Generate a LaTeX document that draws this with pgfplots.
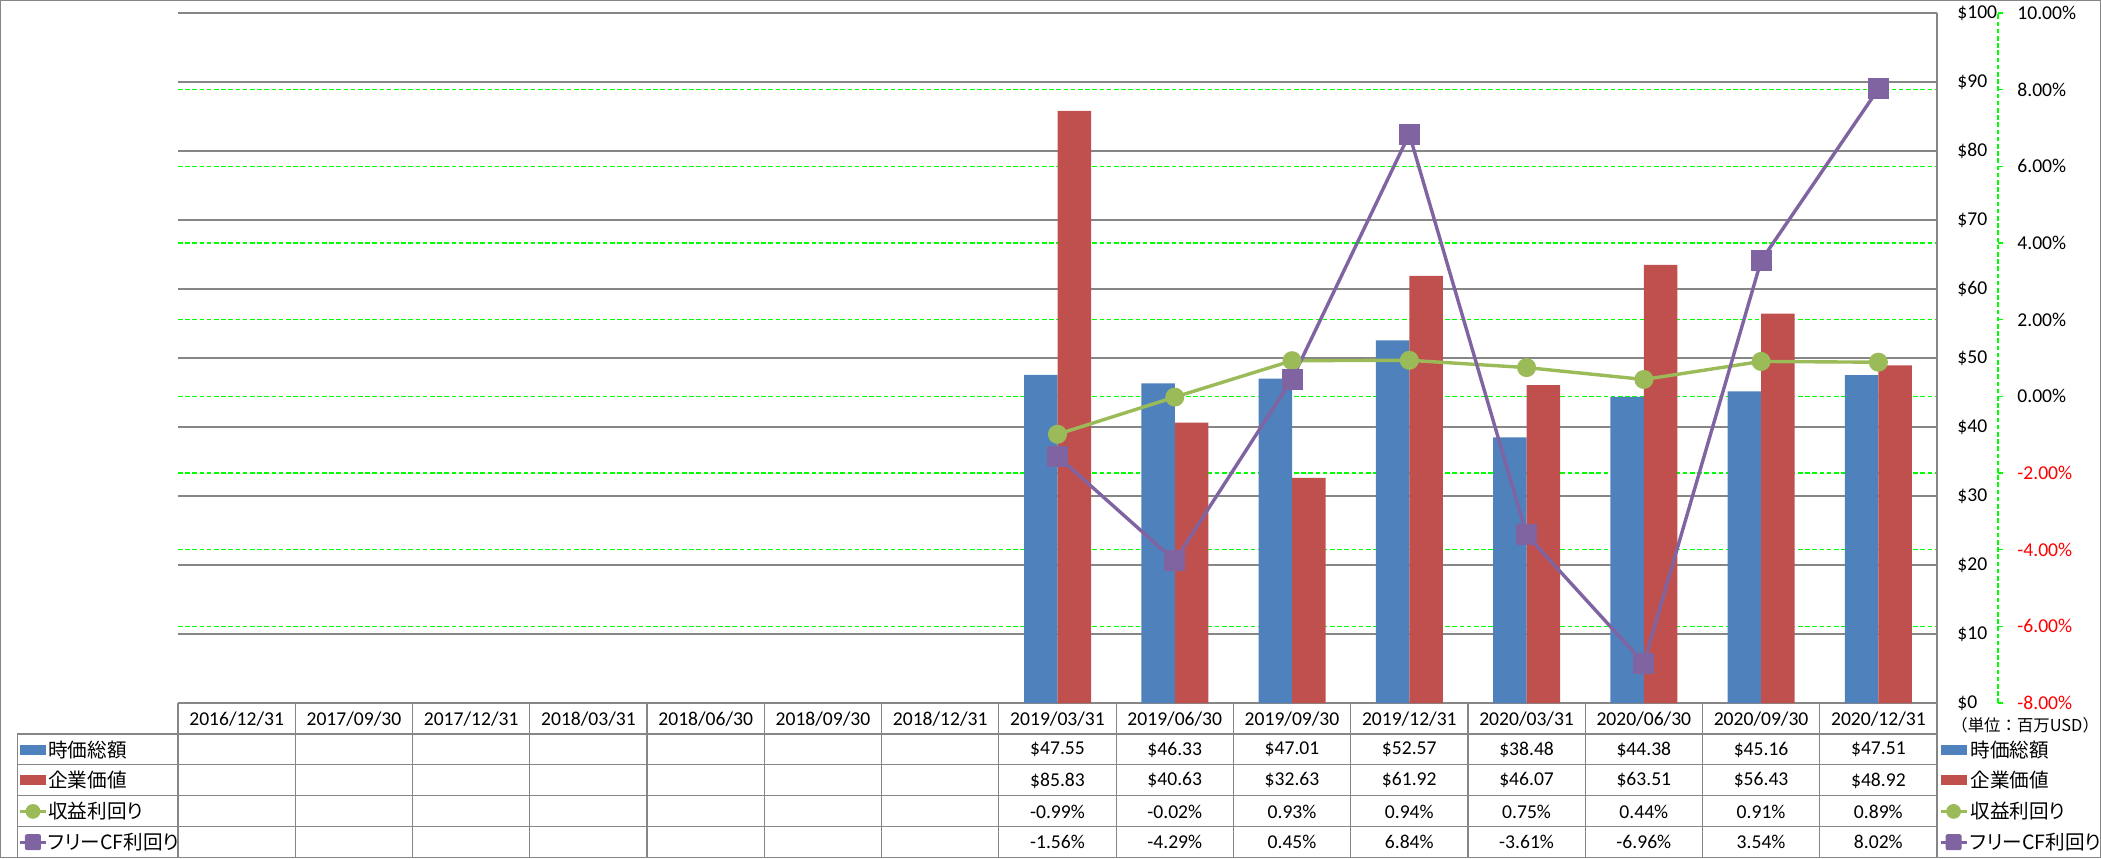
\documentclass[border=0pt]{standalone}
\usepackage{fontspec}
\setmainfont{Carlito}
\newfontfamily\jp[RawFeature=+palt]{Noto Sans CJK JP}
\newfontfamily\jpfull{Noto Sans CJK JP}
\usepackage{pgfplots}
\usepackage{pgfplotstable}
\pgfplotsset{compat=1.18}

\definecolor{mcap}{HTML}{4F81BD}
\definecolor{ev}{HTML}{C0504D}
\definecolor{ey}{HTML}{9BBB59}
\definecolor{fcf}{HTML}{8064A2}
\definecolor{gridgray}{HTML}{868686}
\definecolor{gridgreen}{HTML}{00FF00}

% idx = column of the category (0 = 2016/12/31)
\pgfplotstableread{
idx mcap ev ey fcf
7 47.55 85.83 -0.99 -1.56
8 46.33 40.63 -0.02 -4.29
9 47.01 32.63 0.93 0.45
10 52.57 61.92 0.94 6.84
11 38.48 46.07 0.75 -3.61
12 44.38 63.51 0.44 -6.96
13 45.16 56.43 0.91 3.54
14 47.51 48.92 0.89 8.02
}\data

\pgfplotsset{
  base/.style={
    width=879.5pt, height=345pt, scale only axis,
    at={(0,0)}, anchor=south west,
    xmin=-0.5, xmax=14.5, clip=false,
    axis line style={draw=none}, tick style={draw=none},
    major tick length=0pt,
  },
}

\begin{document}
\fontsize{9.8}{11.5}\selectfont
\begin{tikzpicture}[font=\fontsize{9.8}{11.5}\selectfont]
\path[use as bounding box] (-89pt,-77.5pt) rectangle (961.5pt,351.5pt);

% secondary scale: green grid and % labels
\begin{axis}[base,
  ymin=-8, ymax=10, ytick={-8,-6,...,10}, xtick=\empty,
  ymajorgrids,
  y grid style={gridgreen, line width=0.6pt, dash pattern=on 2.3pt off 1.3pt},
  yticklabel pos=right,
  yticklabel style={anchor=west, inner sep=0pt, xshift=40pt},
  yticklabel={\ifdim\tick pt<0pt\color{red}\fi\pgfmathprintnumber[fixed,fixed zerofill,precision=2,assume math mode=true]{\tick}\%},
]
\addplot[draw=none] coordinates {(0,0)};
\end{axis}

% primary scale: bars
\begin{axis}[base,
  ymin=0, ymax=100, ytick={0,10,...,100},
  ymajorgrids, y grid style={gridgray, line width=0.6pt},
  yticklabel pos=right,
  yticklabel style={anchor=west, inner sep=0pt, xshift=10pt},
  yticklabel={\$\pgfmathprintnumber[assume math mode=true]{\tick}},
  xtick={0,...,14},
  xticklabels={2016/12/31,2017/09/30,2017/12/31,2018/03/31,2018/06/30,2018/09/30,2018/12/31,2019/03/31,2019/06/30,2019/09/30,2019/12/31,2020/03/31,2020/06/30,2020/09/30,2020/12/31},
  xticklabel style={anchor=center, inner sep=0pt, yshift=-7.9pt},
  ybar=0pt, bar width=16.75pt,
]
\addplot[fill=mcap, draw=none] table[x=idx, y=mcap] {\data};
\addplot[fill=ev, draw=none] table[x=idx, y=ev] {\data};
\end{axis}

% secondary scale: yield lines
\begin{axis}[base, ymin=-8, ymax=10, hide axis]
\addplot[ey, line width=1.7pt, mark=*, mark size=3.9pt] table[x=idx, y=ey] {\data};
\addplot[fcf, line width=1.7pt, mark=square*, mark size=4.4pt,
  mark options={rounded corners=1.2pt}] table[x=idx, y=fcf] {\data};
\end{axis}

\def\cw{58.63333}
\tikzset{tbl/.style={gridgray, line width=0.6pt}}
% right value axis line, % axis line
\draw[tbl] (879.5pt,0) -- (879.5pt,345pt);
\draw[gridgreen, line width=0.6pt, dash pattern=on 2.3pt off 1.3pt] (910pt,0) -- (910pt,345pt);
\foreach \k in {0,...,9} \draw[gridgreen, line width=0.6pt] (910pt,\k*38.3333pt) -- ++(2.5pt,0);

% data table grid
\foreach \k in {0,...,15} \draw[tbl] (\k*\cw pt,0) -- (\k*\cw pt,-77.25pt);
\draw[tbl] (-80.3pt,-15.45pt) -- (-80.3pt,-77.25pt);
\foreach \y in {-15.45,-30.9,-46.35,-61.8} \draw[tbl] (-80.3pt,\y pt) -- (879.5pt,\y pt);

% data table values
\foreach \r in {0,...,7}{
  \pgfplotstablegetelem{\r}{idx}\of\data \let\ix\pgfplotsretval
  \pgfmathsetmacro{\cx}{(\ix+0.5)*\cw}
  \pgfplotstablegetelem{\r}{mcap}\of\data
  \node[inner sep=0pt] at (\cx pt,-23.3pt) {\$\pgfplotsretval};
  \pgfplotstablegetelem{\r}{ev}\of\data
  \node[inner sep=0pt] at (\cx pt,-38.7pt) {\$\pgfplotsretval};
  \pgfplotstablegetelem{\r}{ey}\of\data
  \node[inner sep=0pt] at (\cx pt,-54.2pt) {\pgfplotsretval\%};
  \pgfplotstablegetelem{\r}{fcf}\of\data
  \node[inner sep=0pt] at (\cx pt,-69.6pt) {\pgfplotsretval\%};
}

% legend keys: in the table and on the right
\foreach \x in {-79,881.3}{
  \fill[mcap] (\x pt,-25.8pt) rectangle ++(13pt,5pt);
  \fill[ev] (\x pt,-41.2pt) rectangle ++(13pt,5pt);
  \draw[ey, line width=1.7pt] (\x pt,-54.2pt) -- ++(13pt,0);
  \fill[ey] (\x pt+6.5pt,-54.2pt) circle (3.7pt);
  \draw[fcf, line width=1.7pt] (\x pt,-69.6pt) -- ++(13pt,0);
  \fill[fcf, rounded corners=1pt] (\x pt+2.5pt,-73.6pt) rectangle ++(8pt,8pt);
}
\foreach \x in {-65,896}{
  \node[anchor=west, inner sep=0pt] at (\x pt,-23.3pt) {\jp 時価総額};
  \node[anchor=west, inner sep=0pt] at (\x pt,-38.7pt) {\jp 企業価値};
  \node[anchor=west, inner sep=0pt] at (\x pt,-54.2pt) {\jp 収益利回り};
  \node[anchor=west, inner sep=0pt] at (\x pt,-69.6pt) {\jp フリーCF利回り};
}
\node[anchor=west, inner sep=0pt, font=\fontsize{8.2}{9}\selectfont\jpfull] at (886.5pt,-11pt) {（単位：百万USD）};

% outer frame
\draw[tbl] (-88.7pt,-77.2pt) rectangle (961.2pt,351.2pt);
\end{tikzpicture}
\end{document}
